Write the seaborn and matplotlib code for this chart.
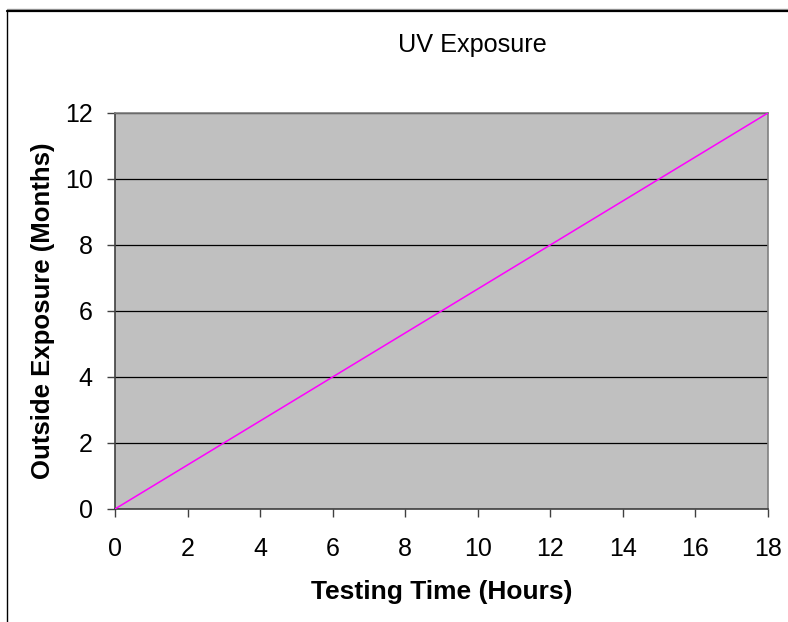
#!/usr/bin/env python3
"""UV exposure: testing hours vs equivalent outdoor months."""

import matplotlib.pyplot as plt
import pandas as pd
import seaborn as sns
from matplotlib.lines import Line2D

testing_hours = [0, 3, 6, 9, 12, 15, 18]
exposure_months = [0, 2, 4, 6, 8, 10, 12]
x_ticks = [0, 2, 4, 6, 8, 10, 12, 14, 16, 18]
y_ticks = [0, 2, 4, 6, 8, 10, 12]


def main():
    df = pd.DataFrame({"hours": testing_hours, "months": exposure_months})

    sns.set_style("white")
    plt.rcParams["font.family"] = ["Liberation Sans", "DejaVu Sans"]
    plt.rcParams["text.color"] = "black"
    plt.rcParams["axes.labelcolor"] = "black"
    plt.rcParams["xtick.color"] = "black"
    plt.rcParams["ytick.color"] = "black"

    fig = plt.figure(figsize=(7.88, 6.22), dpi=100)
    ax = fig.add_axes([0.1459, 0.1817, 0.8287, 0.6367])
    ax.set_facecolor("#C0C0C0")

    sns.lineplot(data=df, x="hours", y="months", ax=ax, color="#FF00FF",
                 linewidth=1.1, zorder=3)

    ax.set_xlim(0, 18)
    ax.set_ylim(0, 12)
    ax.set_xticks(x_ticks)
    ax.set_yticks(y_ticks)
    ax.yaxis.grid(True, color="black", linewidth=0.9)
    ax.xaxis.grid(False)
    ax.set_axisbelow(True)

    for side in ["top", "right"]:
        ax.spines[side].set_color("#808080")
        ax.spines[side].set_linewidth(1.2)
    for side in ["left", "bottom"]:
        ax.spines[side].set_color("#404040")
        ax.spines[side].set_linewidth(1.2)

    ax.tick_params(axis="both", direction="out", length=6, width=1,
                   color="#404040", labelsize=18, bottom=True, left=True)
    ax.tick_params(axis="x", pad=14)
    ax.tick_params(axis="y", pad=10)

    fig.text(0.600, 0.927, "UV Exposure", fontsize=18.2, ha="center", va="center")
    ax.set_xlabel("Testing Time (Hours)", fontsize=19, fontweight="bold", labelpad=14)
    ax.set_ylabel("Outside Exposure (Months)", fontsize=18.5, fontweight="bold", labelpad=7)

    # chart-area frame (top and left edges visible in the original)
    fig.add_artist(Line2D([0.0089, 1.0], [0.9855, 0.9855], transform=fig.transFigure,
                          color="#A0A0A0", linewidth=1.0))
    fig.add_artist(Line2D([0.0089, 1.0], [0.982, 0.982], transform=fig.transFigure,
                          color="black", linewidth=1.6))
    fig.add_artist(Line2D([0.0089, 0.0089], [0.0, 0.982], transform=fig.transFigure,
                          color="black", linewidth=1.0))

    fig.savefig("out.png", dpi=100)


if __name__ == "__main__":
    main()
